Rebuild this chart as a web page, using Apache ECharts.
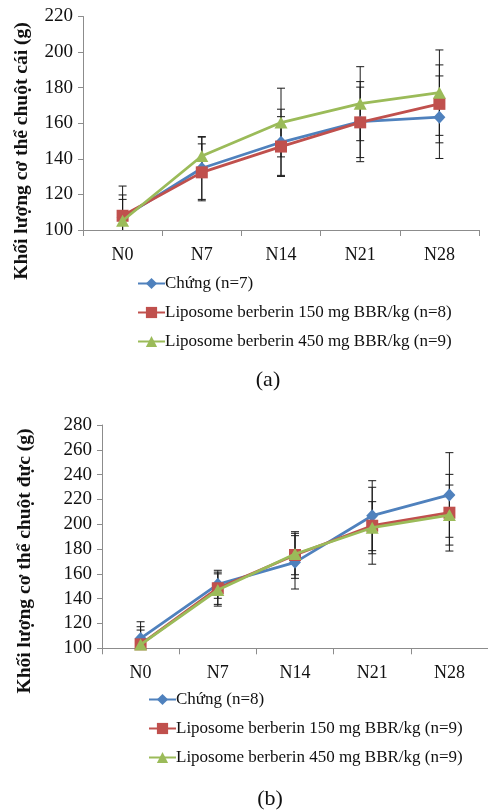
<!DOCTYPE html>
<html>
<head>
<meta charset="utf-8">
<script src="https://cdn.jsdelivr.net/npm/echarts@6/dist/echarts.min.js"></script>
<style>
html,body{margin:0;padding:0;background:#fff;}
#a{position:absolute;left:0;top:0;width:488px;height:406px;}
#b{position:absolute;left:0;top:406px;width:488px;height:406px;}
</style>
</head>
<body>
<div id="a"></div>
<div id="b"></div>
<script>
const categories = ['N0', 'N7', 'N14', 'N21', 'N28'];

// (a) female
const femaleNames = ['Chứng (n=7)', 'Liposome berberin 150 mg BBR/kg (n=8)', 'Liposome berberin 450 mg BBR/kg (n=9)'];
const femaleControl = [107, 134.7, 149.3, 160.9, 163.4];
const femaleControlSD = [12.7, 17.5, 18.6, 22.5, 23.2];
const female150 = [108, 132.4, 146.9, 160.5, 170.9];
const female150SD = [16.7, 16, 16.8, 19.8, 21.9];
const female450 = [105.2, 141.6, 160.4, 171, 177.2];
const female450SD = [12, 10.9, 19.3, 20.8, 24];

// (b) male
const maleNames = ['Chứng (n=8)', 'Liposome berberin 150 mg BBR/kg (n=9)', 'Liposome berberin 450 mg BBR/kg (n=9)'];
const maleControl = [108, 151.6, 169.3, 206.9, 223.6];
const maleControlSD = [13.4, 11.3, 21.5, 28.2, 34.1];
const male150 = [103.2, 148.4, 175.2, 198.8, 209.3];
const male150SD = [14.2, 13, 18.8, 31, 30.9];
const male450 = [103, 147, 176, 197.2, 207.4];
const male450SD = [11.7, 13, 16.7, 21, 24.2];

const yTicksA = [100, 220, 20];
const yTicksB = [100, 280, 20];

const colors = ['#4F81BD', '#C0504D', '#9BBB59'];
const symbols = ['diamond', 'rect', 'triangle'];
const symbolSizes = [[12, 13], 12, [13, 12]];
const FONT = '"Liberation Serif", "Times New Roman", serif';

function errSeries(vals, sds, yMin, xi, yi) {
  return {
    type: 'custom',
    xAxisIndex: xi, yAxisIndex: yi,
    silent: true, z: 1,
    data: vals.map((v, i) => [i, v, sds[i]]),
    renderItem: function (params, api) {
      const i = api.value(0), v = api.value(1), sd = api.value(2);
      const top = api.coord([i, v + sd]);
      const low = v - sd;
      const clipped = low < yMin;
      const bot = api.coord([i, Math.max(low, yMin)]);
      const hw = 4;
      const st = { stroke: '#1a1a1a', lineWidth: 1 };
      const ch = [
        { type: 'line', shape: { x1: top[0], y1: top[1], x2: bot[0], y2: bot[1] }, style: st },
        { type: 'line', shape: { x1: top[0] - hw, y1: top[1], x2: top[0] + hw, y2: top[1] }, style: st }
      ];
      if (!clipped) ch.push({ type: 'line', shape: { x1: bot[0] - hw, y1: bot[1], x2: bot[0] + hw, y2: bot[1] }, style: st });
      return { type: 'group', children: ch };
    }
  };
}

function lineSeries(name, vals, k) {
  return {
    name: name, type: 'line', data: vals, z: 3 + k,
    symbol: symbols[k], symbolSize: symbolSizes[k], showSymbol: true,
    lineStyle: { color: colors[k], width: 2.8 },
    itemStyle: { color: colors[k], borderWidth: 0 },
    emphasis: { disabled: true },
    animation: false
  };
}

function buildOption(cfg) {
  return {
    animation: false,
    textStyle: { fontFamily: FONT },
    grid: cfg.grid,
    title: {
      text: cfg.label, left: cfg.labelX, top: cfg.labelY,
      textAlign: 'center',
      textStyle: { fontFamily: FONT, fontSize: 22, fontWeight: 'normal', color: '#111' }
    },
    legend: {
      orient: 'vertical', left: cfg.legendLeft, top: cfg.legendTop,
      padding: 0,
      itemWidth: 27, itemHeight: 14, itemGap: 12,
      data: cfg.names,
      textStyle: { fontFamily: FONT, fontSize: 17, color: '#111', padding: [0, 0, 0, -5] }
    },
    graphic: [{
      type: 'text', x: cfg.titleX, y: cfg.titleY, rotation: Math.PI / 2,
      style: {
        text: cfg.yTitle, fontFamily: FONT, fontSize: 19.5, fontWeight: 'bold',
        fill: '#111', textAlign: 'center', textVerticalAlign: 'middle'
      }
    }],
    xAxis: {
      type: 'category', data: categories, boundaryGap: true,
      axisLine: { lineStyle: { color: '#8c8c8c', width: 1 } },
      axisTick: { show: true, length: 6, lineStyle: { color: '#8c8c8c' } },
      axisLabel: { fontFamily: FONT, fontSize: 18, color: '#111', margin: 16 },
      splitLine: { show: false }
    },
    yAxis: {
      type: 'value', min: cfg.yTicks[0], max: cfg.yTicks[1], interval: cfg.yTicks[2],
      axisLine: { show: true, lineStyle: { color: '#8c8c8c', width: 1 } },
      axisTick: { show: true, length: 5, lineStyle: { color: '#8c8c8c' } },
      axisLabel: { fontFamily: FONT, fontSize: 19, color: '#111', margin: 10 },
      splitLine: { show: false }
    },
    series: [
      errSeries(cfg.vals[0], cfg.sds[0], cfg.yTicks[0], 0, 0),
      errSeries(cfg.vals[1], cfg.sds[1], cfg.yTicks[0], 0, 0),
      errSeries(cfg.vals[2], cfg.sds[2], cfg.yTicks[0], 0, 0),
      lineSeries(cfg.names[0], cfg.vals[0], 0),
      lineSeries(cfg.names[1], cfg.vals[1], 1),
      lineSeries(cfg.names[2], cfg.vals[2], 2)
    ]
  };
}

const chartA = echarts.init(document.getElementById('a'), null, { renderer: 'canvas' });
chartA.setOption(buildOption({
  grid: { left: 83, top: 16.5, width: 396, height: 213.5 },
  label: '(a)', labelX: 263, labelY: 364,
  legendLeft: 137, legendTop: 275,
  names: femaleNames,
  yTitle: 'Khối lượng cơ thể chuột cái (g)', titleX: 22, titleY: 151,
  yTicks: yTicksA,
  vals: [femaleControl, female150, female450],
  sds: [femaleControlSD, female150SD, female450SD]
}));

const chartB = echarts.init(document.getElementById('b'), null, { renderer: 'canvas' });
chartB.setOption(buildOption({
  grid: { left: 102, top: 19, width: 386, height: 223.3 },
  label: '(b)', labelX: 265, labelY: 377,
  legendLeft: 148, legendTop: 285,
  names: maleNames,
  yTitle: 'Khối lượng cơ thể chuột đực (g)', titleX: 25, titleY: 155,
  yTicks: yTicksB,
  vals: [maleControl, male150, male450],
  sds: [maleControlSD, male150SD, male450SD]
}));
</script>
</body>
</html>
